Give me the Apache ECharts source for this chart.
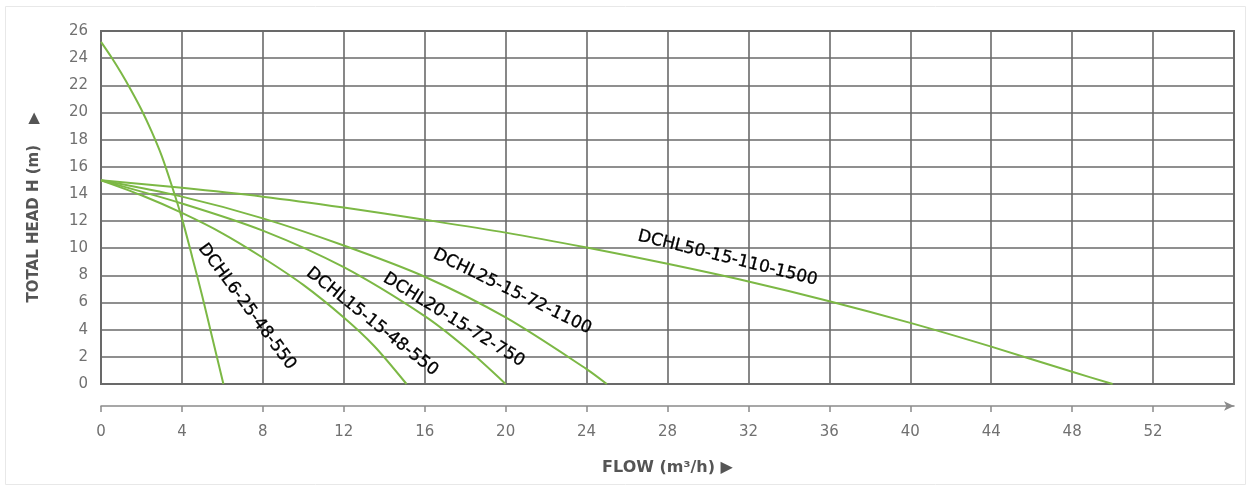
<!DOCTYPE html>
<html>
<head>
<meta charset="utf-8">
<script src="https://cdn.jsdelivr.net/npm/echarts@6/dist/echarts.min.js"></script>
<style>
  html, body { margin: 0; padding: 0; background: #ffffff; }
  #chart { width: 1251px; height: 488px; }
</style>
</head>
<body>
<div id="chart"></div>
<script>
// ---- data ----
const flowTicks = [0, 4, 8, 12, 16, 20, 24, 28, 32, 36, 40, 44, 48, 52];
const headTicks = [0, 2, 4, 6, 8, 10, 12, 14, 16, 18, 20, 22, 24, 26];

const seriesNames = ['DCHL6-25-48-550', 'DCHL15-15-48-550', 'DCHL20-15-72-750', 'DCHL25-15-72-1100', 'DCHL50-15-110-1500'];

const flowDCHL6  = [0, 0.5, 1, 1.5, 2, 2.5, 3, 3.5, 4, 4.5, 5, 5.5, 6.05];
const headDCHL6  = [25.2, 24.1, 22.9, 21.6, 20.2, 18.6, 16.8, 14.6, 12.2, 9.4, 6.5, 3.4, 0];

const flowDCHL15 = [0, 2, 4, 6, 8, 10, 12, 13.5, 15.1];
const headDCHL15 = [15, 13.9, 12.6, 11.1, 9.3, 7.3, 4.9, 2.8, 0];

const flowDCHL20 = [0, 4, 8, 12, 16, 18, 20];
const headDCHL20 = [15, 13.3, 11.3, 8.6, 5.0, 2.7, 0];

const flowDCHL25 = [0, 4, 8, 12, 16, 20, 24, 25];
const headDCHL25 = [15, 13.8, 12.2, 10.2, 7.9, 4.9, 1.1, 0];

const flowDCHL50 = [0, 4, 8, 12, 16, 20, 24, 28, 32, 36, 40, 44, 48, 50];
const headDCHL50 = [15, 14.45, 13.8, 13.0, 12.1, 11.15, 10.05, 8.85, 7.55, 6.1, 4.5, 2.75, 0.9, 0];

const flows = [flowDCHL6, flowDCHL15, flowDCHL20, flowDCHL25, flowDCHL50];
const heads = [headDCHL6, headDCHL15, headDCHL20, headDCHL25, headDCHL50];

// curve label anchors (data coords) and angles (deg) — annotation layout
const labelAnchor = [[7.21, 5.69], [13.4, 4.59], [17.44, 4.71], [20.33, 6.8], [30.97, 9.26]];
const labelAngle = [-53.5, -38.5, -31.8, -26, -14];

const GREEN = '#7cb845';
const GRIDC = '#6a6a6a';

const chart = echarts.init(document.getElementById('chart'), null, { renderer: 'canvas' });

const series = seriesNames.map((name, i) => ({
  name: name,
  type: 'line',
  xAxisIndex: 0,
  yAxisIndex: 0,
  data: flows[i].map((f, k) => [f, heads[i][k]]),
  showSymbol: false,
  smooth: 0.3,
  lineStyle: { color: GREEN, width: 2 },
  z: 3
}));

chart.setOption({
  animation: false,
  backgroundColor: '#ffffff',
  grid: {
    left: 101, right: 17, top: 31, bottom: 104,
    show: true, borderColor: GRIDC, borderWidth: 2, backgroundColor: 'transparent'
  },
  xAxis: [
    {
      type: 'value', min: 0, max: 56, interval: 4, position: 'bottom',
      axisLine: { show: false }, axisTick: { show: false }, axisLabel: { show: false },
      splitLine: { show: true, lineStyle: { color: GRIDC, width: 1.6 } }
    },
    {
      type: 'value', min: 0, max: 56, interval: 4, position: 'bottom', offset: 22,
      axisLine: { show: true, symbol: ['none', 'arrow'], symbolSize: [7, 10], symbolOffset: [0, 0],
                  lineStyle: { color: '#8a8a8a', width: 1.5 } },
      axisTick: { show: true, length: 6, customValues: flowTicks, lineStyle: { color: '#8a8a8a', width: 1.5 } },
      axisLabel: { customValues: flowTicks, margin: 19, color: '#707070', fontSize: 15, fontFamily: 'DejaVu Sans' },
      splitLine: { show: false },
      name: 'FLOW (m\u00B3/h) \u25B6',
      nameLocation: 'middle', nameGap: 54,
      nameTextStyle: { color: '#555555', fontSize: 16, fontWeight: 'bold', fontFamily: 'DejaVu Sans' }
    }
  ],
  yAxis: {
    type: 'value', min: 0, max: 26, interval: 2,
    axisLine: { show: false }, axisTick: { show: false },
    axisLabel: { customValues: headTicks, margin: 13, color: '#707070', fontSize: 15, fontFamily: 'DejaVu Sans' },
    splitLine: { show: true, lineStyle: { color: GRIDC, width: 1.6 } },
    name: 'TOTAL HEAD H (m)    \u25B6',
    nameLocation: 'middle', nameGap: 59,
    nameTextStyle: { color: '#555555', fontSize: 15, fontWeight: 'bold', fontFamily: 'DejaVu Sans' }
  },
  series: series
});

// curve name labels, positioned through the chart's own scales
const graphics = [{
  type: 'rect', silent: true, z: -10,
  shape: { x: 5.5, y: 6.5, width: 1240, height: 478 },
  style: { fill: 'none', stroke: '#e8e8e8', lineWidth: 1 }
}];
seriesNames.forEach((name, i) => {
  const p = chart.convertToPixel({ xAxisIndex: 0, yAxisIndex: 0 }, labelAnchor[i]);
  graphics.push({
    type: 'text', x: p[0], y: p[1], rotation: labelAngle[i] * Math.PI / 180, z: 10,
    style: { text: name, fill: '#000000', font: '17px "DejaVu Sans"', align: 'center', verticalAlign: 'middle',
             stroke: '#000000', lineWidth: 0.3 }
  });
});
chart.setOption({ graphic: graphics });
</script>
</body>
</html>
